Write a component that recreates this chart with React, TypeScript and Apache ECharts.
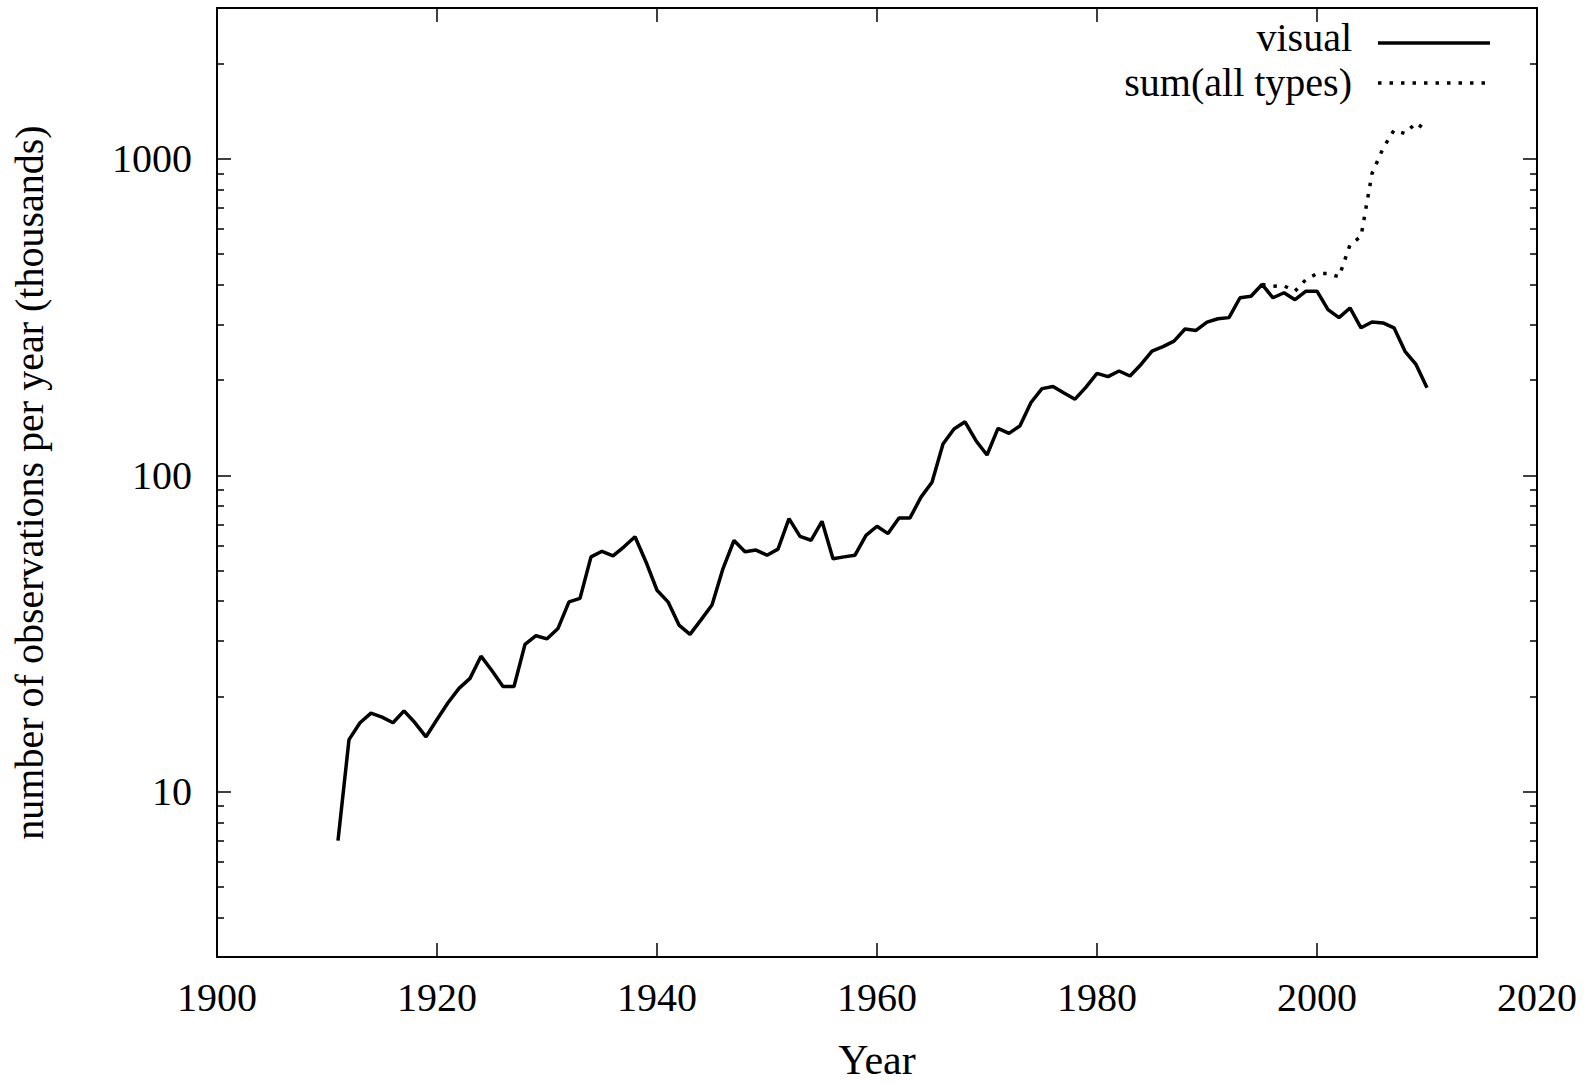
import React, { useEffect, useRef } from "react";
import * as echarts from "echarts";

const visualYears = [
  1911, 1912, 1913, 1914, 1915, 1916, 1917, 1918, 1919, 1920,
  1921, 1922, 1923, 1924, 1925, 1926, 1927, 1928, 1929, 1930,
  1931, 1932, 1933, 1934, 1935, 1936, 1937, 1938, 1939, 1940,
  1941, 1942, 1943, 1944, 1945, 1946, 1947, 1948, 1949, 1950,
  1951, 1952, 1953, 1954, 1955, 1956, 1957, 1958, 1959, 1960,
  1961, 1962, 1963, 1964, 1965, 1966, 1967, 1968, 1969, 1970,
  1971, 1972, 1973, 1974, 1975, 1976, 1977, 1978, 1979, 1980,
  1981, 1982, 1983, 1984, 1985, 1986, 1987, 1988, 1989, 1990,
  1991, 1992, 1993, 1994, 1995, 1996, 1997, 1998, 1999, 2000,
  2001, 2002, 2003, 2004, 2005, 2006, 2007, 2008, 2009, 2010,
];
const visualValues = [
  7, 14.6, 16.5, 17.7, 17.2, 16.5, 18.0, 16.5, 14.9, 16.9,
  19.1, 21.2, 22.8, 26.8, 24.1, 21.5, 21.5, 29.2, 31.1, 30.4,
  32.8, 39.8, 40.8, 55.2, 57.5, 55.6, 59.4, 63.9, 53.2, 43.3,
  39.8, 33.6, 31.4, 34.9, 38.9, 50.7, 62.2, 57.3, 58, 55.9,
  58.4, 72.9, 64.1, 62.3, 71.5, 54.5, 55.2, 55.9, 64.6, 69,
  65.4, 73.3, 73.3, 85.3, 95.1, 125.6, 140, 147.6, 128.6, 115.9,
  140.6, 135.6, 143.3, 169.8, 187.9, 190.8, 182, 174, 190, 210,
  205, 213.6, 206, 224, 247, 255, 265.5, 290, 287, 305,
  312.5, 315, 364, 368, 401, 364, 377.6, 359, 382, 382,
  334, 315, 338, 292.5, 305, 303, 292.5, 246.6, 224, 189,
];

const sumYears = [
  1995, 1996, 1997, 1998, 1999, 2000, 2001, 2002,
  2003, 2004, 2005, 2006, 2007, 2008, 2009, 2010,
];
const sumValues = [
  401, 396, 397, 382, 416, 434, 434, 424,
  535, 569, 899, 1079, 1233, 1203, 1300, 1227,
];

const yTickLabels = [10, 100, 1000];
const seriesNames = ["visual", "sum(all types)"];

const FONT = "'Liberation Serif', 'Times New Roman', serif";
const FS = 40;
const LW = 3.5;
const DOTS = [3.5, 8];

export default function App() {
  const ref = useRef<HTMLDivElement>(null);

  useEffect(() => {
    if (!ref.current) return;
    const chart = echarts.init(ref.current, null, { renderer: "svg" });

    const axisLine = { show: true, onZero: false, lineStyle: { color: "#000", width: 2 } };
    const tickStyle = { color: "#000", width: 1.5 };

    const yBase = (pos: "left" | "right", showLabel: boolean) => ({
      type: "log",
      logBase: 10,
      min: 3,
      max: 3000,
      position: pos,
      axisLine,
      axisTick: { show: true, inside: true, length: 14, lineStyle: tickStyle },
      minorTick: { show: true, splitNumber: 9, length: 7, lineStyle: tickStyle },
      splitLine: { show: false },
      minorSplitLine: { show: false },
      axisLabel: {
        show: showLabel,
        margin: 25,
        color: "#000",
        fontFamily: FONT,
        fontSize: FS,
        formatter: (v: number) => (yTickLabels.includes(Math.round(v)) ? String(Math.round(v)) : ""),
      },
    });

    const xBase = (pos: "bottom" | "top", showLabel: boolean) => ({
      type: "value",
      min: 1900,
      max: 2020,
      interval: 20,
      position: pos,
      axisLine,
      axisTick: { show: true, inside: true, length: 14, lineStyle: tickStyle },
      splitLine: { show: false },
      axisLabel: {
        show: showLabel,
        margin: 20,
        color: "#000",
        fontFamily: FONT,
        fontSize: FS,
        formatter: (v: number) => String(v),
      },
    });

    const legendTextStyle = {
      fill: "#000",
      font: `${FS}px ${FONT}`,
      lineHeight: 34,
      align: "right",
      verticalAlign: "middle",
    };

    chart.setOption({
      animation: false,
      backgroundColor: "#fff",
      grid: { left: 217, right: 59, top: 8, bottom: 127, containLabel: false },
      graphic: [
        { type: "text", x: 1352, y: 37, style: { ...legendTextStyle, text: seriesNames[0] } },
        { type: "line", shape: { x1: 1378, y1: 43, x2: 1490, y2: 43 }, style: { stroke: "#000", lineWidth: LW } },
        { type: "text", x: 1352, y: 82, style: { ...legendTextStyle, text: seriesNames[1] } },
        { type: "line", shape: { x1: 1378, y1: 83, x2: 1490, y2: 83 }, style: { stroke: "#000", lineWidth: LW, lineDash: DOTS } },
      ],
      xAxis: [
        {
          ...xBase("bottom", true),
          name: "Year",
          nameLocation: "middle",
          nameGap: 82,
          nameTextStyle: { color: "#000", fontFamily: FONT, fontSize: 42, verticalAlign: "top" },
        },
        xBase("top", false),
      ],
      yAxis: [
        {
          ...yBase("left", true),
          name: "number of observations per year (thousands)",
          nameLocation: "middle",
          nameGap: 168,
          nameTextStyle: { color: "#000", fontFamily: FONT, fontSize: FS },
        },
        yBase("right", false),
      ],
      series: [
        {
          name: seriesNames[0],
          type: "line",
          xAxisIndex: 0,
          yAxisIndex: 0,
          symbol: "none",
          showSymbol: false,
          lineStyle: { color: "#000", width: LW, type: "solid" },
          itemStyle: { color: "#000" },
          data: visualYears.map((y, i) => [y, visualValues[i]]),
        },
        {
          name: seriesNames[1],
          type: "line",
          xAxisIndex: 0,
          yAxisIndex: 0,
          symbol: "none",
          showSymbol: false,
          lineStyle: { color: "#000", width: LW, type: DOTS },
          itemStyle: { color: "#000" },
          data: sumYears.map((y, i) => [y, sumValues[i]]),
        },
      ],
    });

    return () => chart.dispose();
  }, []);

  return <div ref={ref} style={{ width: 1596, height: 1086, position: "absolute", left: 0, top: 0 }} />;
}
